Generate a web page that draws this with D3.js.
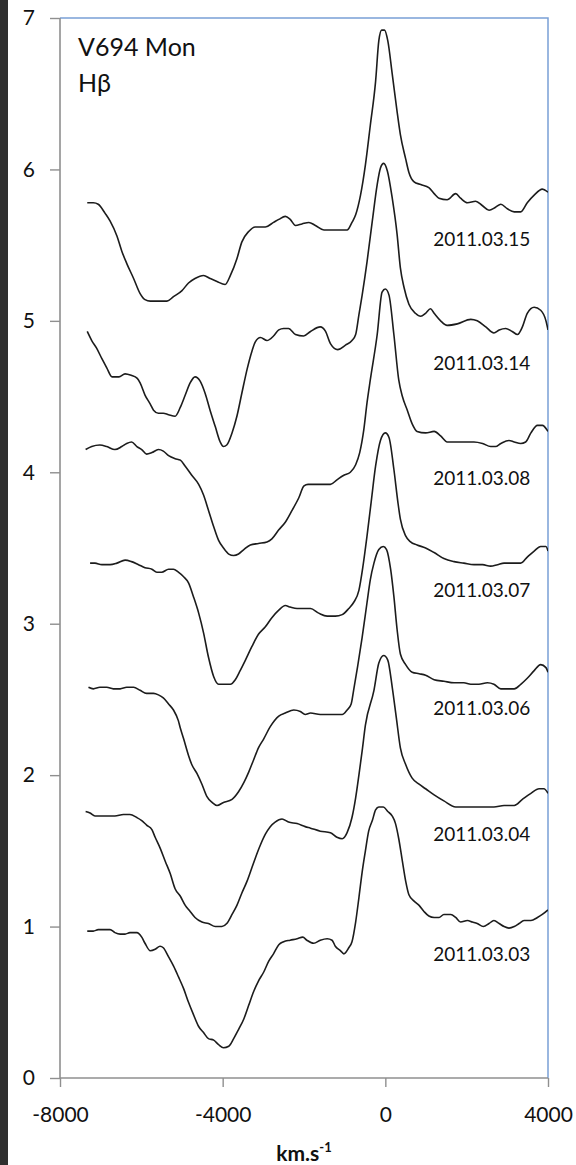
<!DOCTYPE html>
<html>
<head>
<meta charset="utf-8">
<script src="https://cdn.jsdelivr.net/npm/d3@7"></script>
<style>
  body { margin: 0; background: #fff; }
  svg { display: block; }
</style>
</head>
<body>
<div class="chart"></div>
<script>
// spectra: [velocity km/s, normalised flux + offset]
const s0315 = [[-7330,5.78],[-7180,5.78],[-7060,5.77],[-6890,5.71],[-6770,5.66],[-6600,5.56],[-6480,5.46],[-6360,5.38],[-6190,5.28],[-6030,5.18],[-5910,5.14],[-5780,5.13],[-5370,5.13],[-5210,5.16],[-5000,5.20],[-4840,5.25],[-4680,5.28],[-4470,5.30],[-4310,5.28],[-4140,5.26],[-3940,5.24],[-3810,5.30],[-3650,5.41],[-3530,5.52],[-3360,5.59],[-3200,5.62],[-2950,5.62],[-2750,5.65],[-2620,5.67],[-2460,5.69],[-2340,5.67],[-2210,5.63],[-2050,5.64],[-1880,5.65],[-1720,5.63],[-1510,5.60],[-940,5.60],[-820,5.65],[-730,5.70],[-610,5.83],[-490,6.03],[-370,6.29],[-240,6.58],[-160,6.85],[-90,6.92],[-20,6.92],[60,6.85],[170,6.63],[290,6.38],[370,6.23],[500,6.07],[580,5.98],[700,5.92],[870,5.90],[1070,5.88],[1200,5.84],[1320,5.81],[1520,5.80],[1730,5.84],[1850,5.81],[2020,5.78],[2220,5.79],[2390,5.76],[2550,5.73],[2710,5.75],[2840,5.77],[3000,5.74],[3170,5.72],[3330,5.72],[3490,5.78],[3660,5.83],[3860,5.87],[4000,5.85]];

const s0314 = [[-7330,4.93],[-7220,4.87],[-7100,4.82],[-6970,4.75],[-6850,4.69],[-6720,4.63],[-6550,4.63],[-6400,4.65],[-6250,4.64],[-6100,4.62],[-6030,4.59],[-5910,4.51],[-5780,4.45],[-5700,4.41],[-5580,4.39],[-5460,4.39],[-5330,4.38],[-5170,4.37],[-5040,4.43],[-4920,4.51],[-4800,4.59],[-4680,4.63],[-4550,4.60],[-4430,4.52],[-4310,4.41],[-4180,4.30],[-4060,4.20],[-3980,4.17],[-3900,4.18],[-3770,4.26],[-3650,4.37],[-3530,4.52],[-3400,4.68],[-3280,4.80],[-3200,4.86],[-3070,4.89],[-2910,4.87],[-2750,4.90],[-2620,4.94],[-2500,4.95],[-2380,4.95],[-2210,4.91],[-2010,4.90],[-1840,4.93],[-1600,4.96],[-1470,4.93],[-1350,4.85],[-1170,4.81],[-980,4.84],[-820,4.87],[-730,4.91],[-650,5.04],[-570,5.17],[-450,5.39],[-320,5.66],[-200,5.90],[-120,6.01],[-40,6.04],[50,5.99],[170,5.81],[290,5.57],[370,5.35],[460,5.22],[580,5.11],[740,5.05],[870,5.03],[990,5.05],[1110,5.08],[1200,5.05],[1360,5.00],[1520,4.97],[1770,4.98],[2100,5.01],[2260,5.00],[2470,4.96],[2670,4.92],[2800,4.94],[2960,4.95],[3120,4.93],[3250,4.91],[3370,4.96],[3490,5.05],[3660,5.09],[3820,5.07],[3950,5.00],[4000,4.94]];

const s0308 = [[-7370,4.15],[-7220,4.17],[-7020,4.18],[-6850,4.17],[-6650,4.15],[-6480,4.17],[-6360,4.19],[-6240,4.20],[-6110,4.17],[-5990,4.15],[-5870,4.12],[-5740,4.13],[-5580,4.15],[-5460,4.14],[-5330,4.11],[-5170,4.09],[-5040,4.08],[-4920,4.04],[-4760,3.98],[-4590,3.92],[-4470,3.85],[-4350,3.75],[-4220,3.64],[-4100,3.55],[-3980,3.50],[-3850,3.46],[-3730,3.45],[-3610,3.46],[-3480,3.49],[-3320,3.52],[-3120,3.53],[-2910,3.54],[-2790,3.56],[-2620,3.62],[-2460,3.67],[-2290,3.75],[-2130,3.83],[-2000,3.91],[-1900,3.92],[-1680,3.92],[-1350,3.92],[-1190,3.95],[-1020,3.98],[-860,4.00],[-730,4.05],[-630,4.13],[-530,4.28],[-450,4.46],[-370,4.61],[-200,4.91],[-80,5.19],[0,5.21],[90,5.17],[210,4.91],[330,4.61],[420,4.50],[540,4.41],[660,4.32],[780,4.27],[990,4.26],[1200,4.27],[1360,4.24],[1520,4.20],[1690,4.20],[1930,4.20],[2180,4.20],[2390,4.19],[2590,4.17],[2710,4.17],[2840,4.19],[3040,4.21],[3170,4.20],[3330,4.19],[3450,4.20],[3580,4.26],[3740,4.31],[3860,4.31],[4000,4.27]];

const s0307 = [[-7260,3.40],[-7140,3.40],[-6970,3.39],[-6770,3.39],[-6600,3.40],[-6400,3.42],[-6240,3.41],[-6070,3.39],[-5910,3.37],[-5740,3.36],[-5620,3.34],[-5500,3.34],[-5330,3.36],[-5210,3.36],[-5090,3.34],[-4960,3.31],[-4840,3.27],[-4720,3.18],[-4590,3.07],[-4470,2.94],[-4350,2.78],[-4220,2.65],[-4100,2.60],[-3940,2.60],[-3810,2.60],[-3690,2.63],[-3570,2.69],[-3440,2.76],[-3280,2.85],[-3120,2.93],[-2950,2.98],[-2790,3.04],[-2620,3.09],[-2460,3.12],[-2340,3.11],[-2170,3.10],[-1970,3.10],[-1840,3.10],[-1640,3.07],[-1430,3.05],[-1230,3.05],[-1060,3.06],[-900,3.10],[-780,3.14],[-650,3.22],[-550,3.38],[-450,3.58],[-350,3.80],[-240,4.04],[-120,4.21],[0,4.26],[90,4.23],[210,4.02],[310,3.80],[370,3.69],[500,3.58],[620,3.54],[780,3.52],[990,3.50],[1200,3.47],[1440,3.43],[1690,3.41],[1930,3.40],[2180,3.39],[2390,3.39],[2590,3.38],[2760,3.39],[2920,3.40],[3120,3.40],[3330,3.40],[3490,3.44],[3660,3.48],[3820,3.51],[3950,3.51],[4000,3.48]];

const s0306 = [[-7300,2.58],[-7180,2.57],[-7020,2.58],[-6850,2.58],[-6690,2.57],[-6520,2.57],[-6360,2.58],[-6190,2.58],[-6030,2.56],[-5870,2.54],[-5700,2.54],[-5580,2.53],[-5460,2.51],[-5330,2.47],[-5210,2.43],[-5090,2.36],[-5040,2.31],[-4960,2.24],[-4840,2.13],[-4760,2.07],[-4630,2.01],[-4510,1.94],[-4390,1.86],[-4260,1.82],[-4140,1.80],[-3980,1.82],[-3770,1.84],[-3610,1.89],[-3480,1.95],[-3360,2.02],[-3240,2.10],[-3120,2.18],[-2990,2.24],[-2830,2.32],[-2620,2.39],[-2460,2.41],[-2250,2.43],[-2090,2.42],[-1970,2.40],[-1840,2.41],[-1600,2.40],[-1270,2.40],[-1060,2.40],[-940,2.43],[-840,2.47],[-780,2.56],[-680,2.72],[-570,2.91],[-450,3.14],[-370,3.29],[-280,3.40],[-160,3.49],[-50,3.51],[30,3.49],[130,3.36],[210,3.18],[290,2.96],[370,2.80],[500,2.73],[660,2.68],[830,2.67],[990,2.66],[1200,2.63],[1440,2.62],[1690,2.61],[1930,2.61],[2100,2.60],[2300,2.60],[2510,2.61],[2670,2.60],[2840,2.57],[3000,2.57],[3170,2.57],[3330,2.60],[3490,2.64],[3660,2.69],[3820,2.73],[3950,2.71],[4000,2.68]];

const s0304 = [[-7370,1.76],[-7260,1.75],[-7140,1.73],[-6890,1.73],[-6650,1.73],[-6440,1.74],[-6280,1.74],[-6110,1.72],[-5990,1.70],[-5870,1.67],[-5740,1.64],[-5660,1.59],[-5540,1.52],[-5410,1.43],[-5290,1.35],[-5170,1.25],[-5040,1.20],[-4920,1.14],[-4800,1.10],[-4680,1.06],[-4510,1.03],[-4350,1.02],[-4180,1.00],[-4020,1.00],[-3900,1.02],[-3770,1.08],[-3650,1.14],[-3530,1.22],[-3400,1.30],[-3280,1.39],[-3200,1.45],[-3070,1.54],[-2950,1.61],[-2830,1.66],[-2710,1.69],[-2540,1.71],[-2380,1.69],[-2170,1.68],[-1970,1.66],[-1840,1.65],[-1600,1.63],[-1350,1.62],[-1190,1.59],[-1060,1.58],[-940,1.62],[-820,1.72],[-730,1.85],[-650,2.00],[-570,2.16],[-490,2.33],[-280,2.56],[-160,2.74],[-40,2.79],[60,2.76],[170,2.58],[270,2.38],[370,2.18],[500,2.07],[660,1.98],[830,1.94],[990,1.91],[1200,1.87],[1440,1.83],[1730,1.79],[2020,1.79],[2350,1.79],[2670,1.79],[2920,1.80],[3170,1.80],[3370,1.84],[3580,1.88],[3780,1.91],[3900,1.91],[4000,1.88]];

const s0303 = [[-7330,0.97],[-7180,0.97],[-7060,0.98],[-6890,0.98],[-6770,0.98],[-6650,0.96],[-6520,0.95],[-6400,0.95],[-6280,0.96],[-6110,0.96],[-5990,0.93],[-5910,0.89],[-5780,0.84],[-5660,0.85],[-5540,0.87],[-5460,0.86],[-5330,0.80],[-5210,0.74],[-5090,0.67],[-4960,0.59],[-4840,0.50],[-4720,0.42],[-4590,0.34],[-4470,0.30],[-4350,0.26],[-4220,0.25],[-4100,0.22],[-3980,0.20],[-3850,0.21],[-3730,0.26],[-3610,0.32],[-3480,0.39],[-3360,0.48],[-3240,0.57],[-3120,0.64],[-2990,0.70],[-2870,0.77],[-2750,0.82],[-2620,0.88],[-2500,0.90],[-2340,0.91],[-2170,0.92],[-2030,0.93],[-1930,0.91],[-1760,0.89],[-1600,0.91],[-1430,0.92],[-1310,0.91],[-1230,0.87],[-1100,0.84],[-1020,0.82],[-900,0.86],[-820,0.90],[-730,1.03],[-650,1.19],[-570,1.36],[-490,1.50],[-410,1.63],[-320,1.70],[-240,1.77],[-160,1.79],[-50,1.79],[60,1.76],[170,1.73],[250,1.68],[330,1.58],[420,1.43],[500,1.30],[580,1.21],[700,1.17],[830,1.14],[950,1.10],[1070,1.07],[1200,1.06],[1320,1.06],[1440,1.08],[1610,1.08],[1730,1.06],[1850,1.03],[2020,1.04],[2140,1.03],[2260,1.02],[2410,1.00],[2550,1.02],[2670,1.04],[2800,1.02],[2920,1.00],[3040,0.99],[3170,1.00],[3290,1.02],[3410,1.04],[3580,1.04],[3740,1.06],[3860,1.08],[4000,1.11]];

const dates = ["2011.03.15","2011.03.14","2011.03.08","2011.03.07","2011.03.06","2011.03.04","2011.03.03"];
// flux level where each date label sits
const labelLevels = [5.54, 4.72, 3.96, 3.22, 2.44, 1.61, 0.82];
const labelVel = 2370;

const xTicks = [-8000, -4000, 0, 4000];
const yTicks = [0, 1, 2, 3, 4, 5, 6, 7];

const spectra = [s0315, s0314, s0308, s0307, s0306, s0304, s0303];

const W = 576, H = 1165;
const margin = {top: 18, right: 28, bottom: 87, left: 60};
const iw = W - margin.left - margin.right;
const ih = H - margin.top - margin.bottom;
const font = "Lato, 'Open Sans', sans-serif";

const svg = d3.select(".chart").append("svg")
    .attr("width", W)
    .attr("height", H)
    .attr("viewBox", [0, 0, W, H]);

// dark strip on the left edge of the screenshot
svg.append("rect").attr("x", 0).attr("y", 0).attr("width", 8).attr("height", H).attr("fill", "#2f2f2f");

const g = svg.append("g").attr("transform", `translate(${margin.left},${margin.top})`);

const x = d3.scaleLinear().domain([-8000, 4000]).range([0, iw]);
const y = d3.scaleLinear().domain([0, 7]).range([ih, 0]);

// plot area border (top + right are blue in the original)
g.append("path")
    .attr("d", `M0,${y(7)}H${x(4000)}V${y(0)}`)
    .attr("fill", "none")
    .attr("stroke", "#7aa0d6")
    .attr("stroke-width", 1.5);

g.append("clipPath").attr("id", "clip")
  .append("rect").attr("width", iw).attr("height", ih);

const line = d3.line()
    .x(d => x(d[0]))
    .y(d => y(d[1]))
    .curve(d3.curveMonotoneX);

g.append("g").attr("clip-path", "url(#clip)")
  .selectAll("path.spec")
  .data(spectra)
  .join("path")
    .attr("class", "spec")
    .attr("d", line)
    .attr("fill", "none")
    .attr("stroke", "#1c1c1c")
    .attr("stroke-width", 1.6)
    .attr("stroke-linejoin", "round");

// axes (plain hyphen for negatives, like the original)
const yAxis = g.append("g")
    .call(d3.axisLeft(y).tickValues(yTicks).tickSize(10).tickPadding(15).tickFormat(d => String(d)));
const xAxis = g.append("g")
    .attr("transform", `translate(0,${ih})`)
    .call(d3.axisBottom(x).tickValues(xTicks).tickSize(9).tickPadding(20).tickFormat(d => String(d)));

[yAxis, xAxis].forEach(a => {
  a.select(".domain").attr("stroke", "#8f8f8f").attr("stroke-width", 1.6);
  a.selectAll(".tick line").attr("stroke", "#8f8f8f").attr("stroke-width", 1.4);
  a.selectAll("text")
    .attr("font-family", font)
    .attr("font-size", 21)
    .attr("fill", "#111");
});
// no outer end ticks on the domain lines
xAxis.select(".domain").attr("d", `M0,0H${iw}`);
yAxis.select(".domain").attr("d", `M0,${ih}V0`);

// date labels
g.selectAll("text.date")
  .data(dates)
  .join("text")
    .attr("class", "date")
    .attr("x", x(labelVel))
    .attr("y", (d, i) => y(labelLevels[i]))
    .attr("dy", "0.36em")
    .attr("text-anchor", "middle")
    .attr("font-family", font)
    .attr("font-size", 19)
    .attr("fill", "#111")
    .text(d => d);

// title
const title = g.append("text")
    .attr("font-family", font)
    .attr("font-size", 25)
    .attr("fill", "#111");
title.append("tspan").attr("x", 18).attr("y", 38).text("V694 Mon");
title.append("tspan").attr("x", 18).attr("y", 74).text("Hβ");

// x axis title
const xt = svg.append("text")
    .attr("x", margin.left + iw / 2)
    .attr("y", 1161)
    .attr("text-anchor", "middle")
    .attr("font-family", font)
    .attr("font-weight", "bold")
    .attr("font-size", 21)
    .attr("fill", "#111");
xt.append("tspan").text("km.s");
xt.append("tspan").attr("font-size", 13).attr("dy", -9).text("-1");
</script>
</body>
</html>
